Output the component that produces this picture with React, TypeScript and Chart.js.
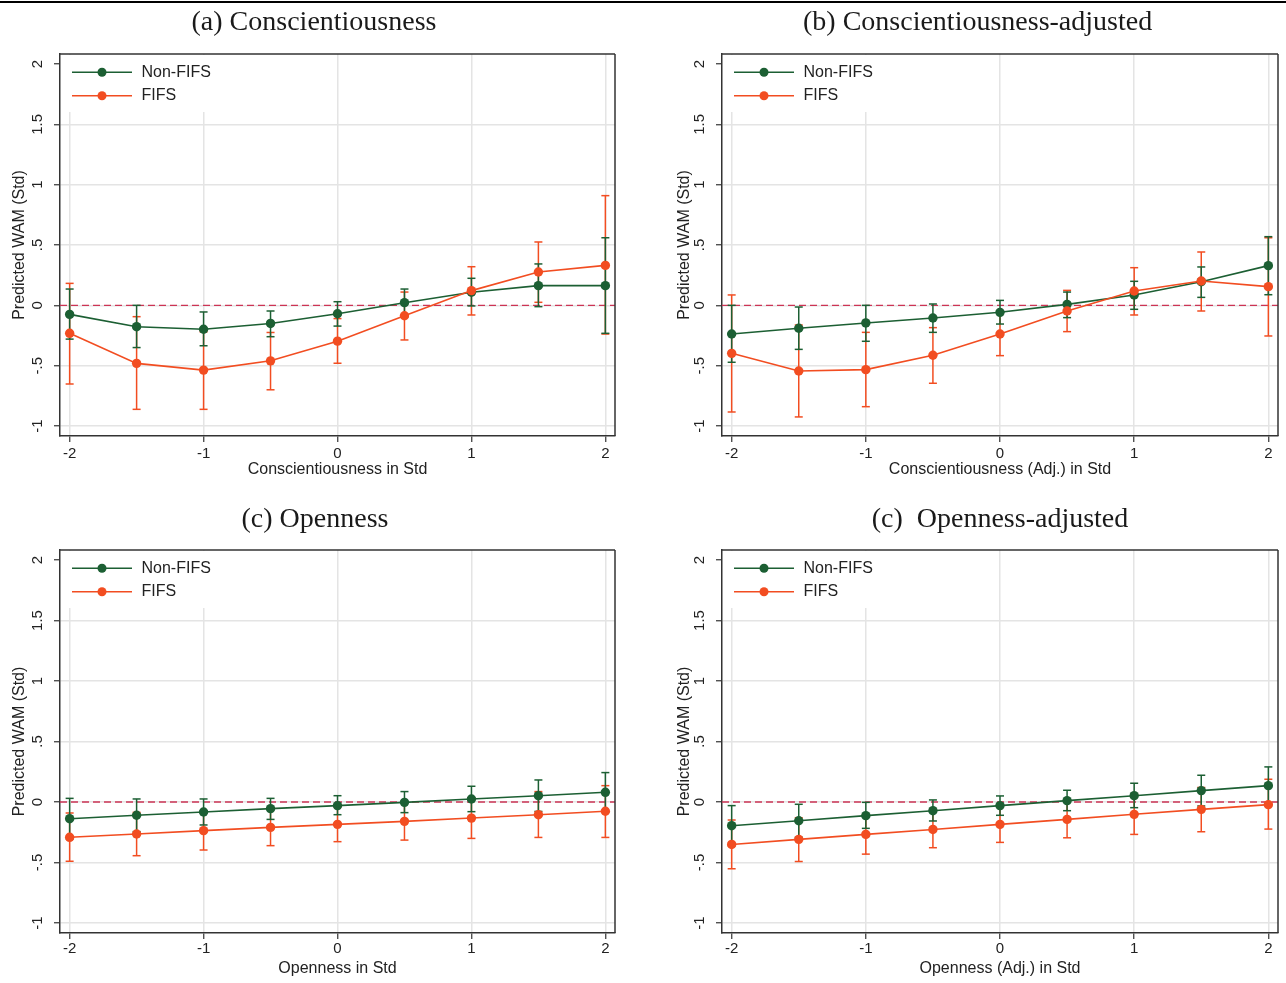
import React, { useEffect, useRef } from "react";
import { Chart, registerables } from "chart.js";

Chart.register(...registerables);

// ---------- data ----------
const xPoints = [-2, -1.5, -1, -0.5, 0, 0.5, 1, 1.5, 2];
const xTickValues = [-2, -1, 0, 1, 2];
const xTickLabels = ["-2", "-1", "0", "1", "2"];
const yTickValues = [-1, -0.5, 0, 0.5, 1, 1.5, 2];
const yTickLabels = ["-1", "-.5", "0", ".5", "1", "1.5", "2"];
const seriesNames = ["Non-FIFS", "FIFS"];
const yAxisTitle = "Predicted WAM (Std)";
const referenceLine = 0;

// (a) Conscientiousness
const consNonMean = [-0.075, -0.177, -0.198, -0.15, -0.07, 0.022, 0.108, 0.163, 0.163];
const consNonLow = [-0.28, -0.35, -0.335, -0.26, -0.172, -0.095, -0.005, -0.011, -0.232];
const consNonHigh = [0.135, 0.0, -0.055, -0.047, 0.03, 0.135, 0.224, 0.343, 0.56];
const consFifsMean = [-0.232, -0.481, -0.537, -0.46, -0.297, -0.086, 0.122, 0.276, 0.331];
const consFifsLow = [-0.652, -0.862, -0.862, -0.7, -0.48, -0.287, -0.08, 0.025, -0.238];
const consFifsHigh = [0.182, -0.094, -0.22, -0.225, -0.11, 0.11, 0.32, 0.525, 0.909];

// (b) Conscientiousness-adjusted
const consAdjNonMean = [-0.238, -0.19, -0.146, -0.105, -0.058, 0.008, 0.086, 0.196, 0.329];
const consAdjNonLow = [-0.472, -0.365, -0.298, -0.224, -0.155, -0.102, -0.033, 0.066, 0.088];
const consAdjNonHigh = [0.0, -0.014, 0.0, 0.011, 0.041, 0.11, 0.199, 0.318, 0.569];
const consAdjFifsMean = [-0.398, -0.544, -0.533, -0.414, -0.238, -0.047, 0.119, 0.202, 0.155];
const consAdjFifsLow = [-0.884, -0.925, -0.84, -0.646, -0.417, -0.218, -0.08, -0.047, -0.254];
const consAdjFifsHigh = [0.086, -0.163, -0.224, -0.185, -0.06, 0.124, 0.312, 0.442, 0.56];

// (c) Openness
const openNonMean = [-0.138, -0.11, -0.083, -0.055, -0.03, -0.003, 0.025, 0.052, 0.08];
const openNonLow = [-0.306, -0.245, -0.19, -0.144, -0.105, -0.088, -0.08, -0.078, -0.086];
const openNonHigh = [0.03, 0.025, 0.025, 0.03, 0.052, 0.086, 0.13, 0.182, 0.243];
const openFifsMean = [-0.292, -0.265, -0.237, -0.21, -0.185, -0.16, -0.133, -0.105, -0.077];
const openFifsLow = [-0.49, -0.444, -0.397, -0.361, -0.328, -0.315, -0.301, -0.293, -0.293];
const openFifsHigh = [-0.091, -0.086, -0.077, -0.059, -0.042, -0.005, 0.035, 0.086, 0.135];

// (d) Openness-adjusted
const openAdjNonMean = [-0.196, -0.155, -0.113, -0.072, -0.03, 0.011, 0.052, 0.094, 0.135];
const openAdjNonLow = [-0.362, -0.291, -0.218, -0.157, -0.11, -0.072, -0.047, -0.033, -0.02];
const openAdjNonHigh = [-0.03, -0.019, -0.003, 0.017, 0.05, 0.097, 0.155, 0.221, 0.29];
const openAdjFifsMean = [-0.351, -0.309, -0.268, -0.227, -0.185, -0.144, -0.102, -0.061, -0.022];
const openAdjFifsLow = [-0.552, -0.492, -0.431, -0.378, -0.334, -0.296, -0.268, -0.246, -0.224];
const openAdjFifsHigh = [-0.149, -0.13, -0.105, -0.076, -0.036, 0.008, 0.064, 0.12, 0.188];

// ---------- styles ----------
const GREEN = "#1c5f33";
const ORANGE = "#f24d21";
const REF = "#cc3455";
const GRID = "#e4e4e4";
const FRAME = "#333333";
const TEXT = "#222222";
const SANS = "'Liberation Sans', Arial, sans-serif";
const SERIF = "'Liberation Serif', 'Times New Roman', serif";

type Area = { l: number; r: number; t: number; b: number };
type PanelSpec = {
  left: number;
  top: number;
  w: number;
  h: number;
  area: Area;
  title: string;
  titleX: number;
  titleY: number;
  xTitle: string;
  xTickDy: number;
  xTitleDy: number;
  yTitleX: number;
  yTickX: number;
  non: [number[], number[], number[]];
  fifs: [number[], number[], number[]];
};

const panels: PanelSpec[] = [
  {
    left: 0, top: 0, w: 643, h: 490,
    area: { l: 60, r: 615, t: 54, b: 436 },
    title: "(a) Conscientiousness", titleX: 314, titleY: 30,
    xTitle: "Conscientiousness in Std", xTickDy: 21.5, xTitleDy: 38,
    yTitleX: 24, yTickX: 41.5,
    non: [consNonMean, consNonLow, consNonHigh],
    fifs: [consFifsMean, consFifsLow, consFifsHigh],
  },
  {
    left: 643, top: 0, w: 643, h: 490,
    area: { l: 79, r: 635, t: 54, b: 436 },
    title: "(b) Conscientiousness-adjusted", titleX: 334.6, titleY: 30,
    xTitle: "Conscientiousness (Adj.) in Std", xTickDy: 21.5, xTitleDy: 38,
    yTitleX: 46, yTickX: 60.5,
    non: [consAdjNonMean, consAdjNonLow, consAdjNonHigh],
    fifs: [consAdjFifsMean, consAdjFifsLow, consAdjFifsHigh],
  },
  {
    left: 0, top: 495, w: 643, h: 488,
    area: { l: 60, r: 615, t: 55, b: 438 },
    title: "(c) Openness", titleX: 315, titleY: 32,
    xTitle: "Openness in Std", xTickDy: 20, xTitleDy: 40,
    yTitleX: 24, yTickX: 41.5,
    non: [openNonMean, openNonLow, openNonHigh],
    fifs: [openFifsMean, openFifsLow, openFifsHigh],
  },
  {
    left: 643, top: 495, w: 643, h: 488,
    area: { l: 79, r: 635, t: 55, b: 438 },
    title: "(c)  Openness-adjusted", titleX: 357, titleY: 32,
    xTitle: "Openness (Adj.) in Std", xTickDy: 20, xTitleDy: 40,
    yTitleX: 46, yTickX: 60.5,
    non: [openAdjNonMean, openAdjNonLow, openAdjNonHigh],
    fifs: [openAdjFifsMean, openAdjFifsLow, openAdjFifsHigh],
  },
];

function line(ctx: CanvasRenderingContext2D, x1: number, y1: number, x2: number, y2: number) {
  ctx.beginPath();
  ctx.moveTo(x1, y1);
  ctx.lineTo(x2, y2);
  ctx.stroke();
}

function makeDecorPlugin(spec: PanelSpec) {
  return {
    id: "panelDecor",
    beforeDatasetsDraw(chart: any) {
      const ctx: CanvasRenderingContext2D = chart.ctx;
      const xs = chart.scales.x;
      const ys = chart.scales.y;
      const ca = chart.chartArea;
      // reference line
      ctx.save();
      ctx.strokeStyle = REF;
      ctx.lineWidth = 1.4;
      ctx.setLineDash([7, 4]);
      const y0 = ys.getPixelForValue(referenceLine);
      line(ctx, ca.left, y0, ca.right, y0);
      ctx.restore();
      // error bars: FIFS (dataset 0) first, then Non-FIFS (dataset 1)
      [0, 1].forEach((di) => {
        const ds = chart.data.datasets[di];
        ctx.save();
        ctx.strokeStyle = ds.borderColor;
        ctx.lineWidth = 1.5;
        xPoints.forEach((xv, i) => {
          const px = xs.getPixelForValue(xv);
          const yl = ys.getPixelForValue(ds.ciLow[i]);
          const yh = ys.getPixelForValue(ds.ciHigh[i]);
          line(ctx, px, yl, px, yh);
          line(ctx, px - 4, yl, px + 4, yl);
          line(ctx, px - 4, yh, px + 4, yh);
        });
        ctx.restore();
      });
    },
    afterDraw(chart: any) {
      const ctx: CanvasRenderingContext2D = chart.ctx;
      const xs = chart.scales.x;
      const ys = chart.scales.y;
      const ca = chart.chartArea;
      ctx.save();
      // legend box
      ctx.fillStyle = "#ffffff";
      ctx.fillRect(ca.left + 1, ca.top + 1, 175, 57);
      const legendColors = [GREEN, ORANGE];
      seriesNames.forEach((name, i) => {
        const ly = ca.top + 18.3 + i * 23.4;
        ctx.strokeStyle = legendColors[i];
        ctx.lineWidth = 1.6;
        line(ctx, ca.left + 12, ly, ca.left + 72, ly);
        ctx.fillStyle = legendColors[i];
        ctx.beginPath();
        ctx.arc(ca.left + 42, ly, 4.5, 0, Math.PI * 2);
        ctx.fill();
        ctx.fillStyle = TEXT;
        ctx.font = `16px ${SANS}`;
        ctx.textAlign = "left";
        ctx.textBaseline = "middle";
        ctx.fillText(name, ca.left + 81.5, ly);
      });
      // frame top / right
      ctx.strokeStyle = FRAME;
      ctx.lineWidth = 1.5;
      line(ctx, ca.left, ca.top, ca.right, ca.top);
      line(ctx, ca.right, ca.top, ca.right, ca.bottom);
      // title
      ctx.fillStyle = "#1a1a1a";
      ctx.font = `28px ${SERIF}`;
      ctx.textAlign = "center";
      ctx.textBaseline = "alphabetic";
      ctx.fillText(spec.title, spec.titleX, spec.titleY);
      // x tick labels
      ctx.fillStyle = TEXT;
      ctx.font = `15px ${SANS}`;
      xTickValues.forEach((v, i) => {
        ctx.fillText(xTickLabels[i], xs.getPixelForValue(v), ca.bottom + spec.xTickDy);
      });
      // x title
      ctx.font = `16px ${SANS}`;
      ctx.fillText(spec.xTitle, (ca.left + ca.right) / 2, ca.bottom + spec.xTitleDy);
      // y tick labels (rotated)
      ctx.font = `15px ${SANS}`;
      yTickValues.forEach((v, i) => {
        ctx.save();
        ctx.translate(spec.yTickX, ys.getPixelForValue(v));
        ctx.rotate(-Math.PI / 2);
        ctx.fillText(yTickLabels[i], 0, 0);
        ctx.restore();
      });
      // y title
      ctx.font = `16px ${SANS}`;
      ctx.save();
      ctx.translate(spec.yTitleX, (ca.top + ca.bottom) / 2);
      ctx.rotate(-Math.PI / 2);
      ctx.fillText(yAxisTitle, 0, 0);
      ctx.restore();
      ctx.restore();
    },
  };
}

function Panel({ spec }: { spec: PanelSpec }) {
  const ref = useRef<HTMLCanvasElement | null>(null);
  useEffect(() => {
    if (!ref.current) return;
    const { area, w, h } = spec;
    const chart = new Chart(ref.current, {
      type: "line",
      data: {
        datasets: [
          {
            label: seriesNames[1],
            data: xPoints.map((x, i) => ({ x, y: spec.fifs[0][i] })),
            ciLow: spec.fifs[1],
            ciHigh: spec.fifs[2],
            borderColor: ORANGE,
            backgroundColor: ORANGE,
            pointBackgroundColor: ORANGE,
            borderWidth: 1.6,
            pointRadius: 4.7,
            pointBorderWidth: 0,
            tension: 0,
          } as any,
          {
            label: seriesNames[0],
            data: xPoints.map((x, i) => ({ x, y: spec.non[0][i] })),
            ciLow: spec.non[1],
            ciHigh: spec.non[2],
            borderColor: GREEN,
            backgroundColor: GREEN,
            pointBackgroundColor: GREEN,
            borderWidth: 1.6,
            pointRadius: 4.7,
            pointBorderWidth: 0,
            tension: 0,
          } as any,
        ],
      },
      options: {
        animation: false,
        responsive: false,
        events: [],
        layout: { padding: { top: area.t, right: w - area.r, left: 0, bottom: 0 } },
        plugins: {
          legend: { display: false },
          tooltip: { enabled: false },
          title: { display: false },
        },
        scales: {
          x: {
            type: "linear",
            min: -2.072,
            max: 2.072,
            afterBuildTicks: (s: any) => {
              s.ticks = xTickValues.map((v) => ({ value: v }));
            },
            afterFit: (s: any) => {
              s.height = h - area.b;
            },
            ticks: { display: false },
            grid: { color: GRID, lineWidth: 1.5, tickLength: 6, tickColor: FRAME, tickWidth: 1.2 },
            border: { color: FRAME, width: 1.5 },
          },
          y: {
            type: "linear",
            min: -1.083,
            max: 2.083,
            afterBuildTicks: (s: any) => {
              s.ticks = yTickValues.map((v) => ({ value: v }));
            },
            afterFit: (s: any) => {
              s.width = area.l;
            },
            ticks: { display: false },
            grid: {
              color: (c: any) => (c.tick && c.tick.value === 2 ? "rgba(0,0,0,0)" : GRID),
              lineWidth: 1.5,
              tickLength: 6,
              tickColor: FRAME,
              tickWidth: 1.2,
            },
            border: { color: FRAME, width: 1.5 },
          },
        },
      } as any,
      plugins: [makeDecorPlugin(spec)],
    });
    return () => chart.destroy();
  }, [spec]);
  return (
    <canvas
      ref={ref}
      width={spec.w}
      height={spec.h}
      style={{ position: "absolute", left: spec.left, top: spec.top, width: spec.w, height: spec.h }}
    />
  );
}

export default function App() {
  return (
    <div
      style={{
        position: "absolute",
        left: 0,
        top: 0,
        width: 1286,
        height: 983,
        background: "#ffffff",
        overflow: "hidden",
      }}
    >
      <div style={{ position: "absolute", left: 0, top: 1, width: 1286, height: 2, background: "#000" }} />
      {panels.map((p, i) => (
        <Panel key={i} spec={p} />
      ))}
    </div>
  );
}
